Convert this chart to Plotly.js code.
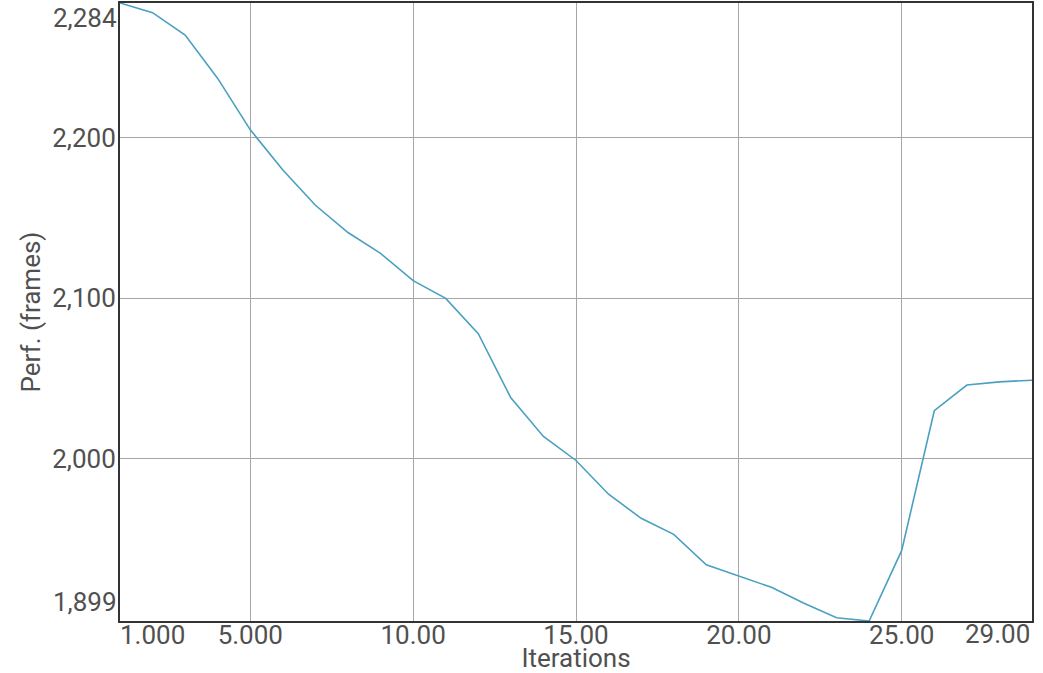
<!DOCTYPE html>
<html>
<head>
<meta charset="utf-8">
<script src="https://cdn.plot.ly/plotly-3.0.1.min.js"></script>
<style>html,body{margin:0;padding:0;background:#fff;}#chart{width:1043px;height:673px;}</style>
</head>
<body>
<div id="chart"></div>
<script>
const iterations = [1,2,3,4,5,6,7,8,9,10,11,12,13,14,15,16,17,18,19,20,21,22,23,24,25,26,27,28,29];
const perfFrames = [2284,2278,2264,2237,2205,2180,2158,2141,2128,2111,2100,2078,2038,2014,1999,1978,1963,1953,1934,1927,1920,1910,1901,1899,1943,2030,2046,2048,2049];
const xTickVals = [5,10,15,20,25];
const xTickText = ['5.000','10.00','15.00','20.00','25.00'];
const xEdgeVals = [1,29];
const xEdgeText = ['1.000','29.00'];
const yTickVals = [2000,2100,2200];
const yTickText = ['2,000','2,100','2,200'];
const yEdgeVals = [2284,1899];
const yEdgeText = ['2,284','1,899'];

const textColor = '#505050';
const fontFam = 'Roboto, sans-serif';
const fs = 26;

const annotations = [
  {xref:'x', yref:'paper', x:xEdgeVals[0], y:0, text:xEdgeText[0], showarrow:false, xanchor:'left', yanchor:'top', xshift:-2, yshift:3, font:{family:fontFam,size:fs,color:textColor}},
  {xref:'x', yref:'paper', x:xEdgeVals[1], y:0, text:xEdgeText[1], showarrow:false, xanchor:'right', yanchor:'top', xshift:0, yshift:4, font:{family:fontFam,size:fs,color:textColor}},
  {xref:'paper', yref:'y', x:0, y:yEdgeVals[0], text:yEdgeText[0], showarrow:false, xanchor:'right', yanchor:'top', xshift:-1, yshift:2, font:{family:fontFam,size:fs,color:textColor}},
  {xref:'paper', yref:'y', x:0, y:yEdgeVals[1], text:yEdgeText[1], showarrow:false, xanchor:'right', yanchor:'bottom', xshift:-1, yshift:2, font:{family:fontFam,size:fs,color:textColor}}
];

Plotly.newPlot('chart', [{
  x: iterations, y: perfFrames, type:'scatter', mode:'lines',
  line:{color:'#4aa0c0', width:1.6}, hoverinfo:'skip'
}], {
  width:1043, height:673,
  margin:{l:120, r:11, t:3, b:52},
  paper_bgcolor:'#fff', plot_bgcolor:'#fff',
  showlegend:false,
  font:{family:fontFam, size:fs, color:textColor},
  xaxis:{
    range:[xEdgeVals[0], xEdgeVals[1]],
    tickvals:xTickVals, ticktext:xTickText,
    showgrid:true, gridcolor:'#a6a6a6', gridwidth:1,
    zeroline:false, showline:true, mirror:true, linecolor:'#333', linewidth:2,
    ticks:'', ticklabelstandoff:-10, tickfont:{family:fontFam,size:fs,color:textColor},
    title:{text:'Iterations', font:{family:fontFam,size:fs,color:textColor}, standoff:0}
  },
  yaxis:{
    range:[yEdgeVals[1], yEdgeVals[0]],
    tickvals:yTickVals, ticktext:yTickText,
    showgrid:true, gridcolor:'#a6a6a6', gridwidth:1,
    zeroline:false, showline:true, mirror:true, linecolor:'#333', linewidth:2,
    ticks:'', ticklabelstandoff:-3, tickfont:{family:fontFam,size:fs,color:textColor},
    title:{text:'Perf. (frames)', font:{family:fontFam,size:fs,color:textColor}, standoff:4}
  },
  annotations: annotations
}, {staticPlot:true});
</script>
</body>
</html>
